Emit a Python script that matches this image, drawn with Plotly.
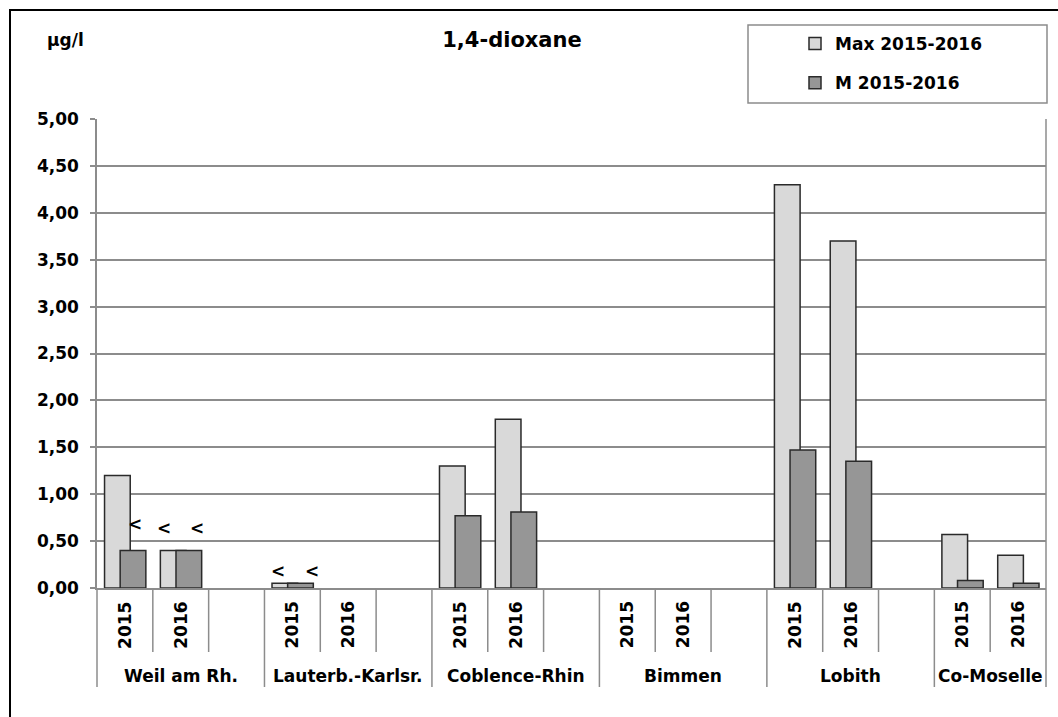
import plotly.graph_objects as go

# ---------------- data ----------------
groups = ["Weil am Rh.", "Lauterb.-Karlsr.", "Coblence-Rhin", "Bimmen", "Lobith", "Co-Moselle"]
years = ["2015", "2016"]
# one value per (group, year), in order Weil 2015, Weil 2016, Lauterb 2015, ...
max_2015_2016 = [1.20, 0.40, 0.05, None, 1.30, 1.80, None, None, 4.30, 3.70, 0.57, 0.35]
m_2015_2016 = [0.40, 0.40, 0.05, None, 0.77, 0.81, None, None, 1.47, 1.35, 0.08, 0.05]
# "<" (below quantification limit) flags
lt_max = [False, True, True, False, False, False, False, False, False, False, False, False]
lt_m = [True, True, True, False, False, False, False, False, False, False, False, False]
y_ticks = [0, 0.5, 1, 1.5, 2, 2.5, 3, 3.5, 4, 4.5, 5]

# ---------------- layout constants ----------------
W, H = 1058, 717
ML, MR, MT, MB = 97, 12, 119, 129
PW, PH = W - ML - MR, H - MT - MB
FONT = "DejaVu Sans"
FS = 17
GRID = "#8c8c8c"
slots_per_group = [3, 3, 3, 3, 3, 2]
group_start = [sum(slots_per_group[:i]) for i in range(len(groups))]
n_slots = sum(slots_per_group)

def px_x(px):
    return (px - ML) / PW

def px_y(py):
    return (H - MB - py) / PH

# positions of each (group, year) on the slot axis
slot = [group_start[g] + y for g in range(len(groups)) for y in range(len(years))]

BAR_W = 0.46
OFF_MAX = -0.365
OFF_M = -0.085

fig = go.Figure()
fig.add_trace(go.Bar(
    x=slot, y=max_2015_2016, name="Max 2015-2016", width=BAR_W, offset=OFF_MAX,
    marker=dict(color="#d9d9d9", line=dict(color="#2a2a2a", width=1.5)),
    legendgroup="a",
))
fig.add_trace(go.Bar(
    x=slot, y=m_2015_2016, name="M 2015-2016", width=BAR_W, offset=OFF_M,
    marker=dict(color="#969696", line=dict(color="#2a2a2a", width=1.5)),
    legendgroup="b",
))

annotations = []
shapes = []

# year labels
for i, s in enumerate(slot):
    annotations.append(dict(
        x=s, xref="x", y=px_y(625), yref="paper", text=years[i % 2], textangle=-90,
        showarrow=False, xanchor="center", yanchor="middle",
        font=dict(family=FONT, size=FS, color="black", weight="bold"),
    ))
# group labels
for g, name in enumerate(groups):
    cx = group_start[g] + (slots_per_group[g] - 1) / 2
    annotations.append(dict(
        x=cx, xref="x", y=px_y(676), yref="paper", text=name, showarrow=False,
        xanchor="center", yanchor="middle",
        font=dict(family=FONT, size=FS, color="black", weight="bold"),
    ))

# "<" markers (pixel nudges as in the original)
lt_shift = {("max", 1): (-9, 22), ("max", 2): (-7, 12), ("m", 0): (2, 26), ("m", 1): (8, 22), ("m", 2): (12, 12)}
for key, flags, vals, off in (("max", lt_max, max_2015_2016, OFF_MAX), ("m", lt_m, m_2015_2016, OFF_M)):
    for i, f in enumerate(flags):
        if f:
            dx, dy = lt_shift.get((key, i), (0, 14))
            annotations.append(dict(
                x=slot[i] + off + BAR_W / 2, xref="x", y=vals[i], yref="y", text="<",
                showarrow=False, xanchor="center", yanchor="middle", xshift=dx, yshift=dy,
                font=dict(family=FONT, size=FS, color="black", weight="bold"),
            ))

# unit label
annotations.append(dict(
    x=px_x(45), xref="paper", y=px_y(40), yref="paper", text="µg/l", showarrow=False,
    xanchor="left", yanchor="middle", font=dict(family=FONT, size=FS, color="black", weight="bold"),
))

# category separators below the axis
group_edges = set(group_start + [n_slots])
for k in range(n_slots + 1):
    depth = 687 if k in group_edges else 652
    shapes.append(dict(type="line", xref="paper", yref="paper", x0=k / n_slots, x1=k / n_slots,
                       y0=0, y1=px_y(depth), line=dict(color=GRID, width=1.5)))
# right border of plot area
shapes.append(dict(type="line", xref="paper", yref="paper", x0=1, x1=1, y0=0, y1=1,
                   line=dict(color=GRID, width=1.5)))
# legend box
shapes.append(dict(type="rect", xref="paper", yref="paper", x0=px_x(748), x1=px_x(1047),
                   y0=px_y(103), y1=px_y(25), line=dict(color=GRID, width=1.5)))
# outer frame (top and left edges)
shapes.append(dict(type="line", xref="paper", yref="paper", x0=px_x(9), x1=px_x(1070),
                   y0=px_y(10), y1=px_y(10), line=dict(color="black", width=2)))
shapes.append(dict(type="line", xref="paper", yref="paper", x0=px_x(10), x1=px_x(10),
                   y0=px_y(10), y1=px_y(730), line=dict(color="black", width=2)))

fig.update_layout(
    width=W, height=H,
    margin=dict(l=ML, r=MR, t=MT, b=MB, autoexpand=False),
    paper_bgcolor="white", plot_bgcolor="white",
    barmode="overlay",
    separators=", ",
    font=dict(family=FONT, size=FS, color="black", weight="bold"),
    title=dict(text="1,4-dioxane", x=512 / W, y=1 - 40 / H, xanchor="center", yanchor="middle",
               xref="container", yref="container",
               font=dict(family=FONT, size=21, color="black", weight="bold")),
    xaxis=dict(range=[-0.5, n_slots - 0.5], showticklabels=False, ticks="", showgrid=False,
               zeroline=False, showline=True, linecolor=GRID, linewidth=1.5, fixedrange=True),
    yaxis=dict(range=[0, 5], tickvals=y_ticks, tickformat=".2f", showgrid=True, gridcolor=GRID,
               gridwidth=1.5, zeroline=False, showline=True, linecolor=GRID, linewidth=1.5,
               ticks="outside", ticklen=5, tickcolor=GRID, tickwidth=1.5, ticklabelstandoff=8,
               tickfont=dict(family=FONT, size=FS, color="black", weight="bold")),
    showlegend=True,
    legend=dict(x=px_x(795), y=px_y(26), xanchor="left", yanchor="top", bgcolor="rgba(0,0,0,0)",
                borderwidth=0, tracegroupgap=14, traceorder="grouped",
                font=dict(family=FONT, size=FS, color="black", weight="bold")),
    annotations=annotations,
    shapes=shapes,
)

fig.write_html(
    "out.html",
    config={"displayModeBar": False},
    post_script="document.body.style.margin='0';document.body.style.overflow='hidden';",
)
